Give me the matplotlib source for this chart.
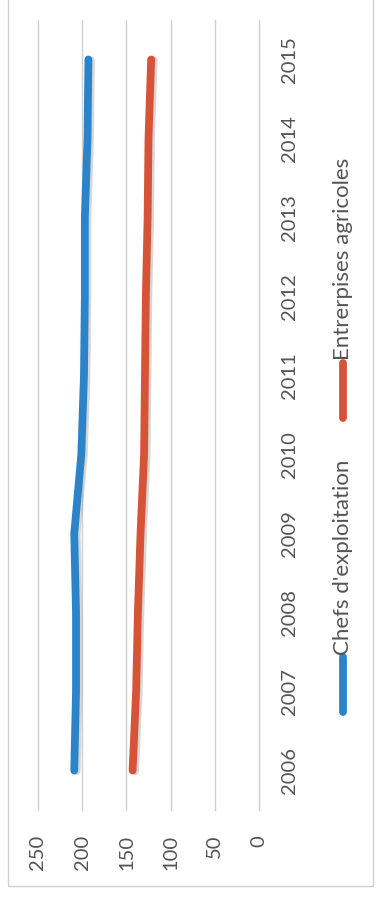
import numpy as np
import matplotlib
matplotlib.use("Agg")
import matplotlib.pyplot as plt
import matplotlib.patheffects as pe
from matplotlib.lines import Line2D
from matplotlib.patches import Rectangle

# Data
years = ["2006", "2007", "2008", "2009", "2010", "2011", "2012", "2013", "2014", "2015"]
chefs = [209, 207, 207, 209, 201, 198, 197, 197, 194, 193]
entreprises = [143, 139, 137, 134, 130, 129, 128, 126, 125, 122]
value_ticks = [0, 50, 100, 150, 200, 250]
series_names = ["Chefs d'exploitation", "Entrerpises agricoles"]

BLUE = "#2b84c9"
RED = "#d65337"
GRID = "#d0d0d0"
TEXT = "#545454"

plt.rcParams["font.family"] = ["Lato", "DejaVu Sans"]

W, H = 376, 909
fig = plt.figure(figsize=(W / 100, H / 100), dpi=100)
fig.patch.set_facecolor("white")


def fx(x):
    return x / W


def fy(y):
    return 1 - y / H


# chart border
fig.add_artist(Rectangle((fx(8), fy(886)), fx(373) - fx(8), 1.2,
                         transform=fig.transFigure, fill=False,
                         edgecolor="#cfcfcf", linewidth=1.0))

# plot area: values run right-to-left, years bottom-to-top
ax = fig.add_axes([fx(38), fy(810), fx(259) - fx(38), fy(20) - fy(810)])
pos = np.arange(len(years))

shadow = [pe.SimpleLineShadow(offset=(1.8, -0.5), shadow_color="#8a8a8a", alpha=0.35),
          pe.Normal()]
ax.plot(chefs, pos, color=BLUE, lw=5.6, solid_capstyle="round",
        solid_joinstyle="round", path_effects=shadow, zorder=3)
ax.plot(entreprises, pos, color=RED, lw=5.6, solid_capstyle="round",
        solid_joinstyle="round", path_effects=shadow, zorder=3)

ax.set_xlim(250, 0)
ax.set_ylim(-0.5, len(years) - 0.5)
ax.set_xticks(value_ticks)
ax.set_xticklabels([str(v) for v in value_ticks], rotation=90,
                   fontsize=14.5, color=TEXT)
ax.tick_params(axis="x", length=0, pad=18)
ax.set_yticks(pos)
ax.set_yticklabels(years, rotation=90, fontsize=14.5, color=TEXT, va="center")
ax.yaxis.tick_right()
ax.tick_params(axis="y", length=0, pad=16)
ax.grid(axis="x", color=GRID, linewidth=1.0)
ax.grid(axis="y", visible=False)
for s in ax.spines.values():
    s.set_visible(False)
for gl in ax.get_xgridlines():
    gl.set_clip_on(False)

# legend
leg_x = 343
handles = [(657, 712, BLUE, 655), (363, 418, RED, 360)]
for (y0, y1, c, ty), name in zip(handles, series_names):
    fig.add_artist(Line2D([fx(leg_x), fx(leg_x)], [fy(y0), fy(y1)],
                          transform=fig.transFigure, color=c, lw=5.6,
                          solid_capstyle="round"))
    fig.text(fx(leg_x), fy(ty), name, rotation=90, ha="center", va="bottom",
             fontsize=16, color=TEXT)

fig.savefig("out.png", dpi=100, facecolor="white")
